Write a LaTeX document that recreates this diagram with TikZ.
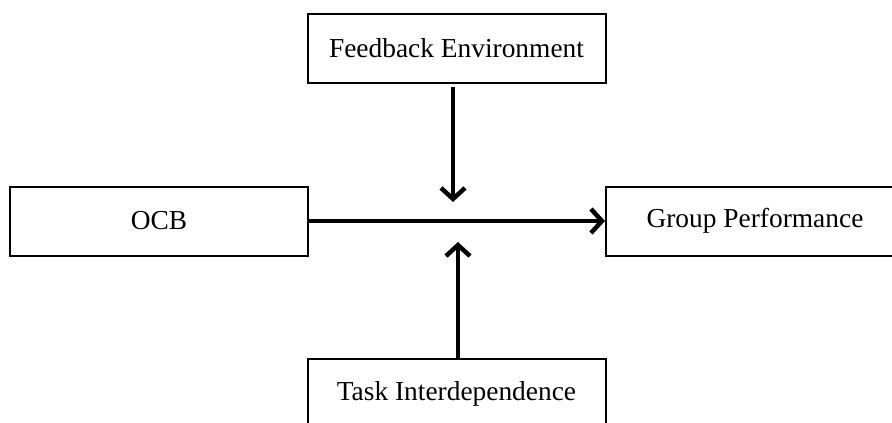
\documentclass[tikz,border=0pt]{standalone}
\usepackage{fontspec}
\setmainfont{Liberation Serif}
\usetikzlibrary{arrows.meta}
\begin{document}
\begin{tikzpicture}[x=1pt,y=-1pt,
  box/.style={draw=black,line width=2pt,fill=white,minimum width=298pt,minimum height=69pt,inner sep=0pt,font=\fontsize{27.4}{32}\selectfont},
  arr/.style={line width=4.5pt,-{Straight Barb[length=11pt,width=24pt,line width=4.5pt]}}]
\useasboundingbox[fill=white] (0,0) rectangle (892,423);
\node[box] (fb) at (456.5,48.5) {Feedback Environment};
\node[box] (ocb) at (159,221) {OCB};
\node[box] (gp) at (755,221) {Group Performance};
\node[box] (ti) at (456.5,393.5) {Task Interdependence};
\coordinate (d1) at (453,202);
\coordinate (u1) at (458,242);
\draw[arr,shorten <=3pt] (fb.south -| d1) -- (d1);
\draw[arr] (ti.north -| u1) -- (u1);
\draw[arr] (ocb.east) -- (gp.west);
\end{tikzpicture}
\end{document}
